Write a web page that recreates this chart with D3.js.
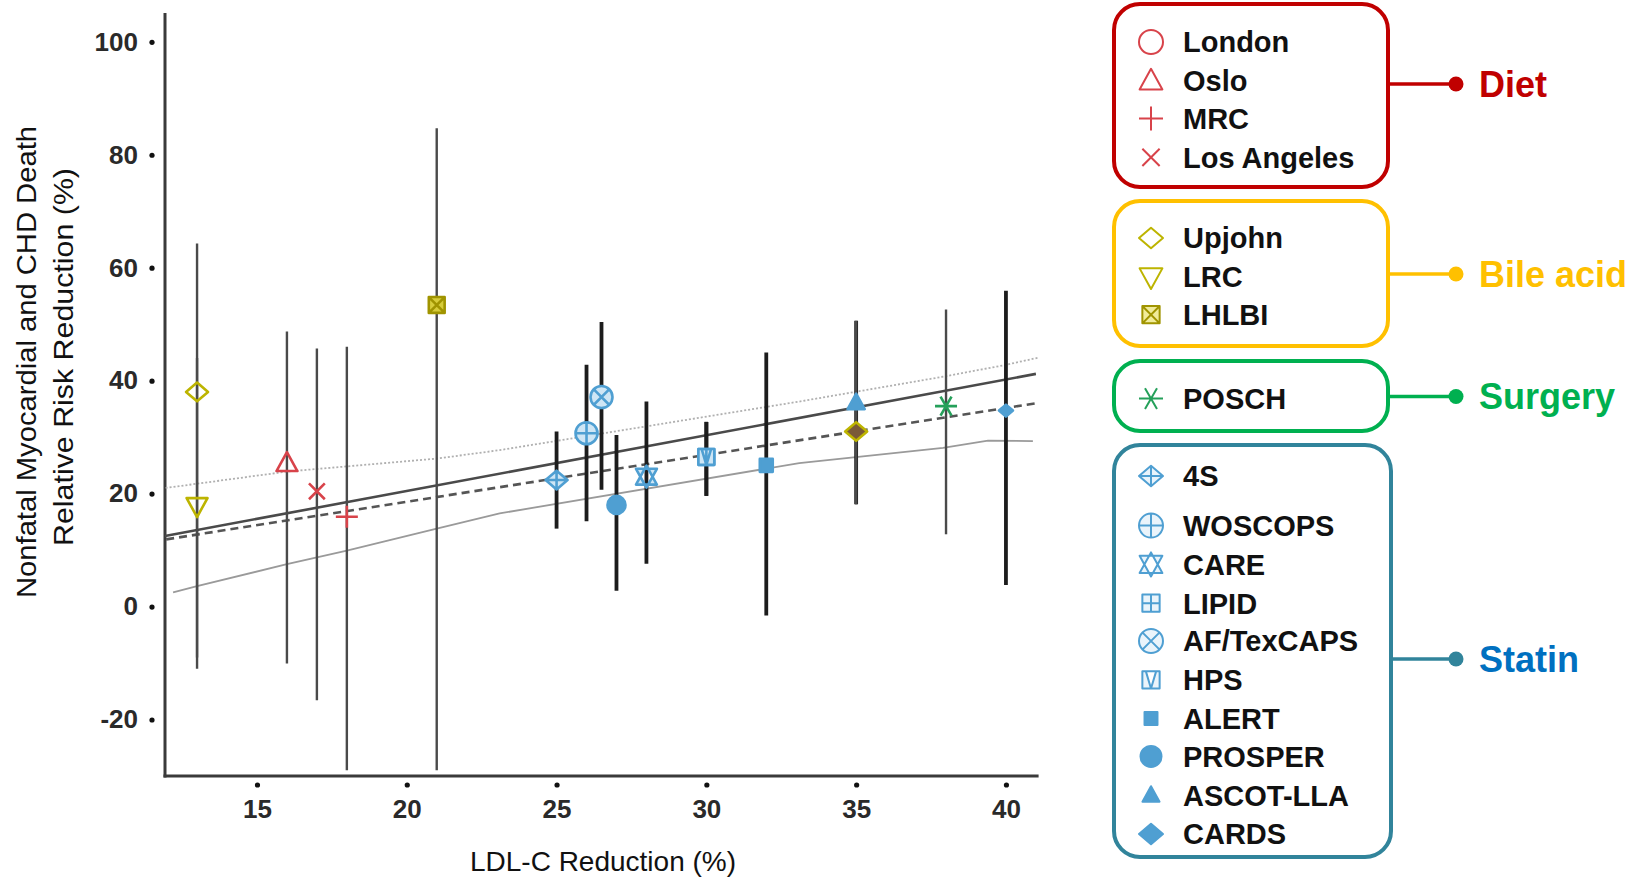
<!DOCTYPE html>
<html>
<head>
<meta charset="UTF-8" />
<script src="https://d3js.org/d3.v7.min.js"></script>
<title>LDL-C reduction vs CHD risk reduction</title>
<style>
  body { margin: 0; background: #fff; }
  svg { font-family: "Liberation Sans", Arial, sans-serif; }
</style>
</head>
<body>
<div id="chart"></div>
<script>
// ---- data ----
var trialNames  = ["Upjohn", "LRC", "Oslo", "Los Angeles", "MRC", "LHLBI", "4S", "WOSCOPS",
                   "AF/TexCAPS", "PROSPER", "CARE", "LIPID", "HPS", "ALERT", "ASCOT-LLA",
                   "Upjohn (2)", "POSCH", "CARDS"];
var trialGroups = ["Bile acid", "Bile acid", "Diet", "Diet", "Diet", "Bile acid", "Statin", "Statin",
                   "Statin", "Statin", "Statin", "Statin", "Statin", "Statin", "Statin",
                   "Bile acid", "Surgery", "Statin"];
var ldlReduction = [13, 13, 16, 17, 18, 21, 25, 26, 26.5, 27, 28, 30, 30, 32, 35, 35, 38, 40];
var riskReduction = [38, 17.8, 25.4, 20.4, 15.9, 53.4, 22.4, 30.7, 37.1, 18.0, 23.0, 26.5, 26.5, 25.0, 36.1, 31.0, 35.5, 34.7];
var ciLower = [-11, -9, -10.1, -16.6, -29, -29, 13.8, 15.1, 20.7, 2.8, 7.6, 19.6, 19.6, -1.6, 18.1, 18.1, 12.8, 3.8];
var ciUpper = [64.3, 44, 48.7, 45.7, 46.0, 84.7, 31.0, 42.8, 50.4, 30.4, 36.3, 32.7, 32.7, 45.0, 50.6, 50.6, 52.6, 55.9];

// fitted line, its mean estimate and band edges
var fitX = [11.93, 41.0], fitY = [12.5, 41.2];
var meanX = [11.97, 41.0], meanY = [11.9, 36.0];
var upperX = [11.95, 16, 21, 23.1, 33.1, 37.9, 40, 41.1];
var upperY = [21, 23.9, 26.2, 27.7, 36.3, 40.7, 42.8, 44.1];
var lowerX = [12.2, 13, 16, 18, 21, 23.1, 33.1, 37.9, 39.4, 40.9];
var lowerY = [2.5, 3.6, 7.5, 9.9, 13.8, 16.5, 25.4, 28.1, 29.4, 29.3];

var xTicks = [15, 20, 25, 30, 35, 40];
var yTicks = [-20, 0, 20, 40, 60, 80, 100];

// legend
var groupNames = ["Diet", "Bile acid", "Surgery", "Statin"];
var dietItems = ["London", "Oslo", "MRC", "Los Angeles"];
var bileItems = ["Upjohn", "LRC", "LHLBI"];
var surgeryItems = ["POSCH"];
var statinItems = ["4S", "WOSCOPS", "CARE", "LIPID", "AF/TexCAPS", "HPS", "ALERT", "PROSPER", "ASCOT-LLA", "CARDS"];

// ---- styling ----
var shapeOf = {
  "London": "circle", "Oslo": "triangle", "MRC": "plus", "Los Angeles": "cross",
  "Upjohn": "diamond", "LRC": "triangleDown", "LHLBI": "boxX", "Upjohn (2)": "diamondDark",
  "POSCH": "asterisk",
  "4S": "diamondPlus", "WOSCOPS": "circlePlus", "CARE": "starDavid", "LIPID": "squarePlus",
  "AF/TexCAPS": "circleX", "HPS": "squareV", "ALERT": "squareFill", "PROSPER": "circleFill",
  "ASCOT-LLA": "triangleFill", "CARDS": "diamondFill"
};
var boxColor = { "Diet": "#c00000", "Bile acid": "#ffc000", "Surgery": "#00b050", "Statin": "#31849b" };
var labelColor = { "Diet": "#c00000", "Bile acid": "#ffc000", "Surgery": "#00b050", "Statin": "#0070c0" };
var markColor = { "Diet": "#d8434a", "Bile acid": "#bdb400", "Surgery": "#25a05a", "Statin": "#4f9fd2" };

var W = 1645, H = 879;
var svg = d3.select("#chart").append("svg")
  .attr("width", W).attr("height", H);
svg.append("rect").attr("width", W).attr("height", H).attr("fill", "#fff");

var x = d3.scaleLinear().domain([11.93, 41.09]).range([165, 1038.6]);
var y = d3.scaleLinear().domain([-30, 105.1]).range([776, 13]);

// marker outlines, r = half size
function shapePath(shape, r) {
  var p = d3.path();
  var k = r * 0.72;
  function circ() { p.moveTo(r, 0); p.arc(0, 0, r, 0, 2 * Math.PI); }
  function sq() { p.rect(-k, -k, 2 * k, 2 * k); }
  function dia() { p.moveTo(0, -r * 0.85); p.lineTo(r, 0); p.lineTo(0, r * 0.85); p.lineTo(-r, 0); p.closePath(); }
  function triUp() { p.moveTo(0, -r); p.lineTo(r * 0.95, r * 0.72); p.lineTo(-r * 0.95, r * 0.72); p.closePath(); }
  function triDown() { p.moveTo(0, r); p.lineTo(r * 0.95, -r * 0.72); p.lineTo(-r * 0.95, -r * 0.72); p.closePath(); }
  switch (shape) {
    case "circle": case "circleFill": circ(); break;
    case "circlePlus": circ(); p.moveTo(-r, 0); p.lineTo(r, 0); p.moveTo(0, -r); p.lineTo(0, r); break;
    case "circleX": circ(); p.moveTo(-k, -k); p.lineTo(k, k); p.moveTo(k, -k); p.lineTo(-k, k); break;
    case "triangle": case "triangleFill": triUp(); break;
    case "triangleDown": triDown(); break;
    case "starDavid": triUp(); triDown(); break;
    case "plus": p.moveTo(-r, 0); p.lineTo(r, 0); p.moveTo(0, -r); p.lineTo(0, r); break;
    case "cross": p.moveTo(-k, -k); p.lineTo(k, k); p.moveTo(k, -k); p.lineTo(-k, k); break;
    case "asterisk":
      [0, 60, 120].forEach(function(a) {
        var c = Math.cos(a * Math.PI / 180) * r, s = Math.sin(a * Math.PI / 180) * r;
        p.moveTo(-c, -s); p.lineTo(c, s);
      });
      break;
    case "diamond": case "diamondFill": case "diamondDark": dia(); break;
    case "diamondPlus": dia(); p.moveTo(-r, 0); p.lineTo(r, 0); p.moveTo(0, -r * 0.85); p.lineTo(0, r * 0.85); break;
    case "boxX": sq(); p.moveTo(-k, -k); p.lineTo(k, k); p.moveTo(k, -k); p.lineTo(-k, k); break;
    case "squarePlus": sq(); p.moveTo(-k, 0); p.lineTo(k, 0); p.moveTo(0, -k); p.lineTo(0, k); break;
    case "squareV": sq(); p.moveTo(-k * 0.6, -k); p.lineTo(0, k); p.lineTo(k * 0.6, -k); break;
    case "squareFill": sq(); break;
  }
  return p.toString();
}

function isFilled(shape) {
  return ["circleFill", "triangleFill", "squareFill", "diamondFill"].indexOf(shape) >= 0;
}

function markerSize(shape, inPlot) {
  if (shape === "squareFill" || shape === "triangleFill") return 9;
  if (shape === "diamondFill") return inPlot ? 7 : 12;
  if (shape === "circleFill") return inPlot ? 9 : 10.5;
  return inPlot ? 11 : 12;
}

function drawMarker(g, shape, r, color, inPlot) {
  var fill = "none";
  if (isFilled(shape)) fill = color;
  else if (shape === "boxX") fill = inPlot ? "#d6cc3a" : "#f1ec9a";
  else if (shape === "diamondDark") fill = "#7a5a38";
  else if (color === markColor["Statin"]) fill = inPlot ? "#cfe6f5" : "#eaf4fb";
  g.append("path")
    .attr("d", shapePath(shape, r))
    .attr("fill", fill)
    .attr("stroke", shape === "boxX" ? "#a09400" : color)
    .attr("stroke-width", inPlot ? 2.6 : 2)
    .attr("stroke-linejoin", "round");
}

// ---- axes ----
var plot = svg.append("g");

plot.append("line")
  .attr("x1", x.range()[0]).attr("x2", x.range()[0])
  .attr("y1", y.range()[1]).attr("y2", y.range()[0] + 1.5)
  .attr("stroke", "#3a3a3a").attr("stroke-width", 3);
plot.append("line")
  .attr("x1", x.range()[0] - 1.5).attr("x2", x.range()[1])
  .attr("y1", y.range()[0]).attr("y2", y.range()[0])
  .attr("stroke", "#3a3a3a").attr("stroke-width", 3);

var yAxis = plot.append("g")
  .attr("transform", "translate(" + x.range()[0] + ",0)")
  .call(d3.axisLeft(y).tickValues(yTicks).tickSize(0).tickPadding(27)
    .tickFormat(function(d) { return String(d); }));
yAxis.select(".domain").remove();
yAxis.selectAll("text")
  .style("font-family", "Liberation Sans, Arial, sans-serif")
  .style("font-size", "26px").style("font-weight", "bold").attr("fill", "#2a2a2a");
yAxis.selectAll(".tick").append("circle")
  .attr("cx", -13).attr("cy", 0).attr("r", 2.6).attr("fill", "#111");

var xAxis = plot.append("g")
  .attr("transform", "translate(0," + y.range()[0] + ")")
  .call(d3.axisBottom(x).tickValues(xTicks).tickSize(0).tickPadding(24));
xAxis.select(".domain").remove();
xAxis.selectAll("text")
  .style("font-family", "Liberation Sans, Arial, sans-serif")
  .style("font-size", "26px").style("font-weight", "bold").attr("fill", "#2a2a2a");
xAxis.selectAll(".tick").append("circle")
  .attr("cx", 0).attr("cy", 9).attr("r", 2.6).attr("fill", "#111");

svg.append("text")
  .attr("x", 603).attr("y", 871)
  .attr("text-anchor", "middle")
  .style("font-size", "28px").attr("fill", "#111")
  .text("LDL-C Reduction (%)");

svg.append("text")
  .attr("transform", "translate(26,362)rotate(-90)")
  .attr("text-anchor", "middle").attr("dy", "0.35em")
  .attr("textLength", 472).attr("lengthAdjust", "spacingAndGlyphs")
  .style("font-size", "28px").attr("fill", "#111")
  .text("Nonfatal Myocardial and CHD Death");
svg.append("text")
  .attr("transform", "translate(63,357)rotate(-90)")
  .attr("text-anchor", "middle").attr("dy", "0.35em")
  .attr("textLength", 378).attr("lengthAdjust", "spacingAndGlyphs")
  .style("font-size", "28px").attr("fill", "#111")
  .text("Relative Risk Reduction (%)");

// ---- fitted lines ----
function lineOf(xs, ys) {
  return d3.line().x(function(d) { return x(d); }).y(function(d, i) { return y(ys[i]); })(xs);
}
plot.append("path").attr("d", lineOf(upperX, upperY))
  .attr("fill", "none").attr("stroke", "#b0b0b0").attr("stroke-width", 1.8).attr("stroke-dasharray", "2,2");
plot.append("path").attr("d", lineOf(lowerX, lowerY))
  .attr("fill", "none").attr("stroke", "#9a9a9a").attr("stroke-width", 1.8);
plot.append("path").attr("d", lineOf(fitX, fitY))
  .attr("fill", "none").attr("stroke", "#4a4a4a").attr("stroke-width", 2.6);
plot.append("path").attr("d", lineOf(meanX, meanY))
  .attr("fill", "none").attr("stroke", "#555").attr("stroke-width", 2.6).attr("stroke-dasharray", "8,5");

// ---- error bars then markers ----
var trials = trialNames.map(function(n, i) {
  return { name: n, group: trialGroups[i], x: ldlReduction[i], y: riskReduction[i], lo: ciLower[i], hi: ciUpper[i] };
});

plot.selectAll(".ci").data(trials).enter().append("line")
  .attr("class", "ci")
  .attr("x1", function(d) { return x(d.x); }).attr("x2", function(d) { return x(d.x); })
  .attr("y1", function(d) { return y(d.hi); }).attr("y2", function(d) { return y(Math.max(d.lo, -29.5)); })
  .attr("stroke", function(d) { return d.group === "Statin" ? "#1c1c1c" : "#4a4a4a"; })
  .attr("stroke-width", function(d) { return d.group === "Statin" ? 3.8 : 2.4; });

trials.forEach(function(d) {
  var g = plot.append("g").attr("transform", "translate(" + x(d.x) + "," + y(d.y) + ")");
  var shape = shapeOf[d.name];
  drawMarker(g, shape, markerSize(shape, true), markColor[d.group], true);
});

// ---- legend ----
var boxes = [
  { group: "Diet", items: dietItems, top: 4, bottom: 187, right: 1388, rows: [42, 80.8, 118.5, 157.4], link: 84 },
  { group: "Bile acid", items: bileItems, top: 201, bottom: 346, right: 1388, rows: [238, 277, 314.7], link: 274 },
  { group: "Surgery", items: surgeryItems, top: 361, bottom: 431, right: 1388, rows: [398.6], link: 396.5 },
  { group: "Statin", items: statinItems, top: 445, bottom: 857, right: 1391,
    rows: [476, 525.6, 564.4, 603.2, 641, 679.8, 718.6, 756.4, 795.2, 834], link: 659 }
];

var legend = svg.append("g");
boxes.forEach(function(b) {
  var col = boxColor[b.group];
  legend.append("rect")
    .attr("x", 1114).attr("y", b.top)
    .attr("width", b.right - 1114).attr("height", b.bottom - b.top)
    .attr("rx", 26).attr("ry", 26)
    .attr("fill", "none").attr("stroke", col).attr("stroke-width", 4);
  legend.append("line")
    .attr("x1", b.right).attr("x2", 1456)
    .attr("y1", b.link).attr("y2", b.link)
    .attr("stroke", col).attr("stroke-width", 3.5);
  legend.append("circle")
    .attr("cx", 1456).attr("cy", b.link).attr("r", 7.5)
    .attr("fill", col);
  legend.append("text")
    .attr("x", 1479).attr("y", b.link).attr("dy", "0.36em")
    .style("font-size", "36px").style("font-weight", "bold")
    .attr("fill", labelColor[b.group])
    .text(b.group);

  b.items.forEach(function(name, i) {
    var g = legend.append("g").attr("transform", "translate(1151," + b.rows[i] + ")");
    var shape = shapeOf[name];
    drawMarker(g, shape, markerSize(shape, false), markColor[b.group], false);
    legend.append("text")
      .attr("x", 1183).attr("y", b.rows[i]).attr("dy", "0.36em")
      .style("font-size", "29px").style("font-weight", "bold").attr("fill", "#111")
      .text(name);
  });
});
</script>
</body>
</html>
